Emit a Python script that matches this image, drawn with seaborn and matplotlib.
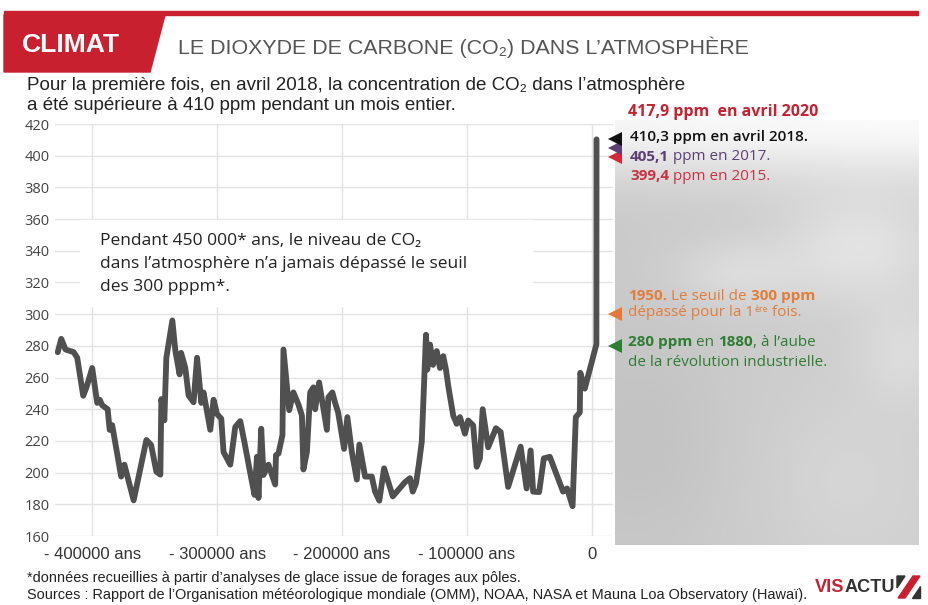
import numpy as np
import matplotlib
matplotlib.use("Agg")
import matplotlib.pyplot as plt
import seaborn as sns
from matplotlib import font_manager
from matplotlib.patches import Rectangle, Polygon

# ---------------- data ----------------
years = [-427800, -425000, -421600, -415000, -412200, -407400, -404800, -400200,
         -396200, -394200, -392200, -387800, -386200, -384200, -377000, -374400,
         -367000, -356800, -353000, -348800, -345600, -344800, -342400, -340800,
         -336000, -333600, -330200, -329000, -325600, -323000, -319000, -316200,
         -312800, -311000, -305600, -303000, -300200, -296800, -295000, -289600,
         -285600, -281600, -278200, -272800, -270200, -268200, -267000, -264800,
         -263000, -259000, -253600, -253000, -251000, -247800, -247000, -242400,
         -239000, -235000, -232200, -231000, -228200, -225600, -223000, -221600,
         -218400, -212200, -211000, -207800, -205600, -203200, -198400, -195800,
         -192200, -188200, -186200, -181600, -176200, -173600, -170200, -166400,
         -159400, -149600, -145600, -143400, -140800, -138600, -136200, -132800,
         -131800, -129600, -127200, -124200, -121600, -119000, -116800, -115000,
         -111000, -108200, -105600, -101600, -99000, -95000, -92200, -89600,
         -87400, -83000, -76800, -73000, -67000, -57000, -52200, -49000,
         -47000, -42200, -38400, -33600, -23000, -19800, -15400, -12800,
         -9600, -9200, -5600, 3700, 3800]
co2 = [276, 284.4, 277.7, 276, 272.5, 248.5, 253.8, 266,
       244, 246, 242.5, 240, 227, 230, 197.5, 205,
       182.5, 220.6, 217.5, 200.6, 198.7, 246.4, 233, 272.5,
       296, 277, 262, 275.6, 266, 248.7, 244.4, 272.5,
       244, 250.6, 227, 246, 237, 234, 213, 205,
       228.8, 232.5, 219, 196.5, 186, 210, 184, 227.7,
       198.5, 205, 192.5, 211, 212, 223.7, 277.7, 239.4,
       250.6, 243, 236, 202, 213, 250.6, 253.8, 240,
       256.9, 227, 247.5, 250.6, 244, 238, 215, 235,
       213, 195.6, 217.7, 197.5, 197.5, 188, 182.3, 202.7,
       185, 194, 196.5, 188, 193.3, 204.8, 219.4, 287,
       265, 280.8, 268, 276.7, 266, 273.5, 265, 254.8,
       236, 230.8, 235, 224.6, 232.9, 229.8, 203.7, 209,
       240, 216, 228, 225.6, 191, 216.4, 190, 214,
       188, 187.7, 209, 210, 188, 190, 178.8, 235,
       238, 263, 253, 281, 410.3]

y_ticks = list(range(160, 421, 20))
x_ticks = [-400000, -300000, -200000, -100000, 0]
x_tick_labels = ["- 400000 ans", "- 300000 ans", "- 200000 ans", "- 100000 ans", "0"]

marker_values = [399.4, 405.1, 410.3, 300, 280]
marker_colors = ["#d2283a", "#5c3f73", "#111111", "#e47a3a", "#2e7d32"]

RED = "#c8202f"
LINE = "#505050"

# ---------------- setup ----------------
W, H = 929, 605
sns.set_theme(style="white")
available = {f.name for f in font_manager.fontManager.ttflist}
NARROW = "Liberation Sans Narrow" if "Liberation Sans Narrow" in available else "Liberation Sans"
BODY = "Open Sans" if "Open Sans" in available else "DejaVu Sans"
plt.rcParams["font.family"] = [BODY, "DejaVu Sans"]

fig = plt.figure(figsize=(W / 100, H / 100), dpi=100)
fig.patch.set_facecolor("white")
renderer = fig.canvas.get_renderer()


def fx(px):
    return px / W


def fy(py):
    return 1 - py / H


def width_px(t):
    return t.get_window_extent(renderer=renderer).width


def fit(t, target):
    for _ in range(3):
        w = width_px(t)
        if w > 0:
            t.set_fontsize(t.get_fontsize() * target / w)
    return t


def measure(s, size, weight, family):
    a = fig.text(0, 0, "|" + s + "|", fontsize=size, fontweight=weight, family=family)
    b = fig.text(0, 0, "||", fontsize=size, fontweight=weight, family=family)
    w = width_px(a) - width_px(b)
    a.remove()
    b.remove()
    return w


def runs(x_px, y_px, parts, size, family=None):
    family = family or [BODY, "DejaVu Sans"]
    x = x_px
    for p in parts:
        s, color, weight = p[0], p[1], p[2]
        sz = p[3] if len(p) > 3 else size
        dy = p[4] if len(p) > 4 else 0
        fig.text(fx(x), fy(y_px - dy), s, color=color, fontsize=sz,
                 fontweight=weight, family=family, ha="left", va="center")
        x += measure(s, sz, weight, family)
    return x


# ---------------- cloud panel ----------------
pax = fig.add_axes([fx(615), fy(545), fx(919) - fx(615), fy(120) - fy(545)], zorder=-1)
ny, nx = 240, 160
yy, xx = np.mgrid[0:1:ny * 1j, 0:1:nx * 1j]
g = 0.79 + 0.02 * xx
g += 0.17 * np.exp(-(yy / 0.13) ** 2)
g += 0.08 * np.exp(-(((xx - 0.80) / 0.25) ** 2 + ((yy - 0.30) / 0.13) ** 2))
g += 0.06 * np.exp(-(((xx - 0.40) / 0.22) ** 2 + ((yy - 0.36) / 0.08) ** 2))
g += 0.05 * np.exp(-(((xx - 0.95) / 0.15) ** 2 + ((yy - 0.55) / 0.12) ** 2))
g += 0.03 * np.exp(-(((xx - 0.75) / 0.25) ** 2 + ((yy - 0.85) / 0.2) ** 2))
g -= 0.03 * np.exp(-(((xx - 0.10) / 0.25) ** 2 + ((yy - 0.75) / 0.25) ** 2))
pax.imshow(np.clip(g, 0, 1), cmap="gray", vmin=0, vmax=1, aspect="auto",
           interpolation="bicubic")
pax.set_axis_off()

# ---------------- main axes ----------------
ax = fig.add_axes([fx(55), fy(536), fx(613) - fx(55), fy(124) - fy(536)])
ax.set_facecolor("none")
sns.lineplot(x=years, y=co2, ax=ax, sort=False, estimator=None, color=LINE,
             linewidth=4.2, zorder=3)
ax.set_xlim(-430000, 17000)
ax.set_ylim(160, 420)
ax.set_xticks(x_ticks)
ax.set_xticklabels(x_tick_labels)
ax.set_yticks(y_ticks)
ax.grid(True, color="#e2e2e2", linewidth=1.0)
ax.set_axisbelow(True)
for sp in ax.spines.values():
    sp.set_visible(False)
ax.tick_params(axis="y", length=0, pad=4, labelsize=10.5, labelcolor="#444444")
ax.tick_params(axis="x", length=0, pad=8, labelsize=12, labelcolor="#333333")
for lab in ax.get_xticklabels():
    lab.set_family([NARROW, "DejaVu Sans"])
for lab in ax.get_yticklabels():
    lab.set_family([BODY, "DejaVu Sans"])

# triangles pointing at the levels
MARKER_X = 19000
for v, c in zip(marker_values, marker_colors):
    ax.plot([MARKER_X], [v], marker="<", markersize=10, color=c,
            markeredgewidth=0, clip_on=False, zorder=5)

# ---------------- header ----------------
fig.patches.append(Rectangle((fx(4), fy(15)), fx(918) - fx(4), fy(11) - fy(15),
                             transform=fig.transFigure, color=RED, zorder=1))
fig.patches.append(Polygon([(fx(4), fy(15)), (fx(165), fy(15)), (fx(150), fy(72)),
                            (fx(4), fy(72))], closed=True, transform=fig.transFigure,
                           color=RED, zorder=1))
t = fig.text(fx(22), fy(45), "CLIMAT", color="white", fontweight="bold",
             family=[NARROW, "DejaVu Sans"], fontsize=20, ha="left", va="center")
fit(t, 98)
t = fig.text(fx(178), fy(47), "LE DIOXYDE DE CARBONE (CO\u2082) DANS L\u2019ATMOSPH\u00c8RE",
             color="#555555", family=[NARROW, "DejaVu Sans"], fontsize=17,
             ha="left", va="center")
fit(t, 570)
t = fig.text(fx(27), fy(85), "Pour la premi\u00e8re fois, en avril 2018, la concentration de CO\u2082 dans l\u2019atmosph\u00e8re",
             color="#222222", family=[NARROW, "DejaVu Sans"], fontsize=13,
             ha="left", va="center")
fit(t, 656)
fig.text(fx(27), fy(105), "a \u00e9t\u00e9 sup\u00e9rieure \u00e0 410 ppm pendant un mois entier.",
         color="#222222", family=[NARROW, "DejaVu Sans"], fontsize=t.get_fontsize(),
         ha="left", va="center")

# ---------------- annotation box ----------------
fig.patches.append(Rectangle((fx(80), fy(306)), fx(532) - fx(80), fy(220) - fy(306),
                             transform=fig.transFigure, color="white", zorder=1))
for i, line in enumerate(["Pendant 450 000* ans, le niveau de CO\u2082",
                          "dans l\u2019atmosph\u00e8re n\u2019a jamais d\u00e9pass\u00e9 le seuil",
                          "des 300 pppm*."]):
    fig.text(fx(100), fy(241 + 23 * i), line, color="#222222", fontsize=12.5,
             ha="left", va="center", zorder=2)

# ---------------- right labels ----------------
PURPLE = "#5c3f73"
PINK = "#cc3045"
runs(628, 112, [("417,9 ppm  en avril 2020", RED, "bold")], 11.5)
runs(630, 137, [("410,3 ppm en avril 2018.", "#111111", "semibold")], 11)
runs(630, 157, [("405,1", PURPLE, "bold"), (" ppm en 2017.", PURPLE, "normal")], 11)
runs(630, 176, [("399,4", PINK, "bold"), (" ppm en 2015.", PINK, "normal")], 11)
ORANGE = "#e27d3c"
runs(628, 296, [("1950.", ORANGE, "bold"), (" Le seuil de ", ORANGE, "normal"),
                ("300 ppm", ORANGE, "bold")], 11)
runs(628, 313, [("d\u00e9pass\u00e9 pour la 1", ORANGE, "normal"),
                ("\u00e8re", ORANGE, "normal", 6.5, 4), (" fois.", ORANGE, "normal")], 11)
GREEN = "#2e7d32"
runs(628, 342, [("280 ppm", GREEN, "bold"), (" en ", GREEN, "normal"),
                ("1880", GREEN, "bold"), (", \u00e0 l\u2019aube", GREEN, "normal")], 11)
runs(628, 362, [("de la r\u00e9volution industrielle.", GREEN, "normal")], 11)

# ---------------- footer ----------------
t1 = fig.text(fx(27), fy(578), "*donn\u00e9es recueillies \u00e0 partir d\u2019analyses de glace issue de forages aux p\u00f4les.",
              color="#222222", family=[NARROW, "DejaVu Sans"], fontsize=10.5,
              ha="left", va="center")
t2 = fig.text(fx(27), fy(595), "Sources : Rapport de l\u2019Organisation m\u00e9t\u00e9orologique mondiale (OMM), NOAA, NASA et Mauna Loa Observatory (Hawa\u00ef).",
              color="#222222", family=[NARROW, "DejaVu Sans"], fontsize=10.5,
              ha="left", va="center")
fit(t2, 783)
t1.set_fontsize(t2.get_fontsize())

# logo
LOGO_FAM = [NARROW, "DejaVu Sans"]
probe = fig.text(0, 0, "VISACTU", fontweight="bold", family=LOGO_FAM, fontsize=16)
fit(probe, 80)
lsize = probe.get_fontsize()
full_w = width_px(probe)
probe.set_text("ACTU")
actu_w = width_px(probe)
probe.remove()
fig.text(fx(815), fy(587), "VIS", color=RED, fontweight="bold", family=LOGO_FAM,
         fontsize=lsize, ha="left", va="center")
fig.text(fx(815 + full_w), fy(587), "ACTU", color="#333333", fontweight="bold",
         family=LOGO_FAM, fontsize=lsize, ha="right", va="center")
fig.patches.append(Polygon([(fx(898), fy(598)), (fx(905), fy(598)), (fx(920), fy(576)),
                            (fx(913), fy(576))], closed=True, transform=fig.transFigure,
                           color=RED, zorder=1))
fig.patches.append(Polygon([(fx(897), fy(576)), (fx(905), fy(576)), (fx(897), fy(588))],
                           closed=True, transform=fig.transFigure, color="#333333", zorder=1))
fig.patches.append(Polygon([(fx(912), fy(598)), (fx(920), fy(598)), (fx(920), fy(586))],
                           closed=True, transform=fig.transFigure, color="#333333", zorder=1))

fig.savefig("out.png", dpi=100)
